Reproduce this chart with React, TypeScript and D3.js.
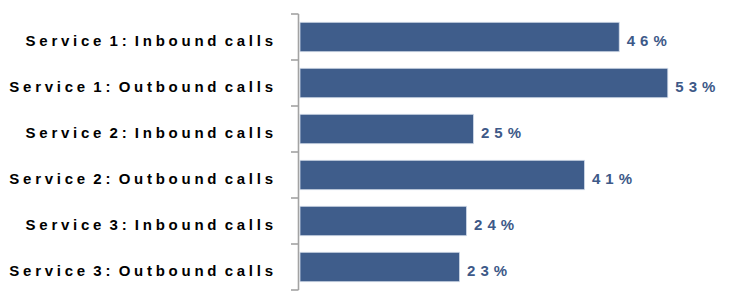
import React from "react";
import * as d3 from "d3";

const categories = [
  "Service 1: Inbound calls",
  "Service 1: Outbound calls",
  "Service 2: Inbound calls",
  "Service 2: Outbound calls",
  "Service 3: Inbound calls",
  "Service 3: Outbound calls",
];
const values = [46, 53, 25, 41, 24, 23];
const valueLabels = ["46%", "53%", "25%", "41%", "24%", "23%"];

const W = 731;
const H = 305;

export default function App() {
  const x = d3.scaleLinear().domain([0, 53]).range([300, 667.8]);
  const y = d3
    .scaleBand<string>()
    .domain(categories)
    .range([14, 290])
    .paddingInner(0.36)
    .paddingOuter(0.18);
  const step = y.step();
  const tickYs = categories.map((c) => (y(c) as number) - step * 0.18);
  tickYs.push(290);

  const font = "'Liberation Sans', Arial, Helvetica, sans-serif";

  return (
    <svg
      width={W}
      height={H}
      style={{ position: "absolute", left: 0, top: 0 }}
      viewBox={`0 0 ${W} ${H}`}
    >
      <rect width={W} height={H} fill="#ffffff" />
      {categories.map((c, i) => {
        const y0 = y(c) as number;
        const bw = y.bandwidth();
        const cy = y0 + bw / 2;
        return (
          <g key={c}>
            <rect
              x={x(0)}
              y={y0}
              width={x(values[i]) - x(0)}
              height={bw}
              fill="#3f5d8b"
              stroke="#d3dcea"
              strokeWidth={0.8}
            />
            <text
              x={276.8}
              y={cy + 8.6}
              textAnchor="end"
              fontFamily={font}
              fontWeight="bold"
              fontSize={15}
              letterSpacing={3.75}
              wordSpacing={-3.5}
              fill="#000000"
            >
              {c}
            </text>
            <text
              x={x(values[i]) + 7.5}
              y={cy + 8.8}
              fontFamily={font}
              fontWeight="bold"
              fontSize={15}
              letterSpacing={5}
              fill="#3d5988"
            >
              {valueLabels[i]}
            </text>
          </g>
        );
      })}
      <line x1={298.5} x2={298.5} y1={14} y2={290} stroke="#a3a3a3" strokeWidth={1.6} />
      {tickYs.map((t, i) => (
        <line key={i} x1={291} x2={298.5} y1={t} y2={t} stroke="#a3a3a3" strokeWidth={1.6} />
      ))}
    </svg>
  );
}
